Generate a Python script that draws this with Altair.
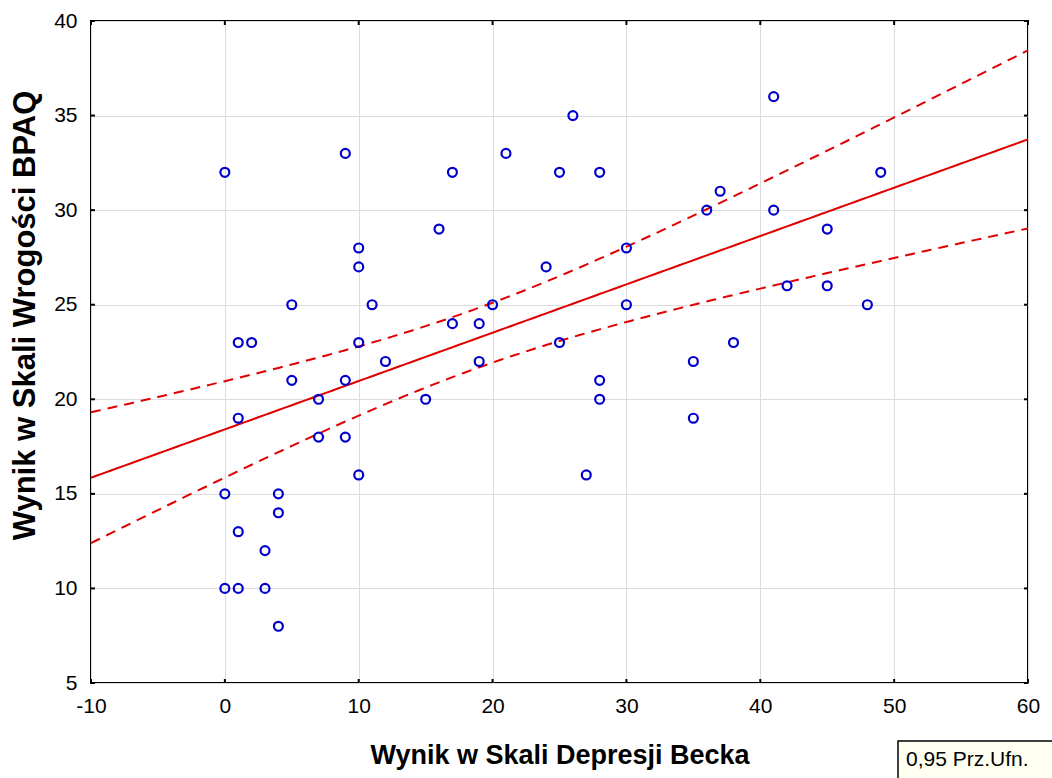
import altair as alt
import numpy as np
import pandas as pd

# ---- data ----
beck = [0, 9, 10, 10, 5, 11, 1, 2, 10, 16, 12, 5, 9, 7, 1, 7, 9, 10, 0, 4, 4, 1, 3, 0, 1, 3, 4, 15,
        26, 21, 17, 25, 28, 37, 36, 30, 24, 20, 30, 17, 19, 25, 38, 19, 28, 28, 27, 35, 35,
        41, 41, 49, 45, 42, 45, 48]
bpaq = [32, 33, 28, 27, 25, 25, 23, 23, 23, 29, 22, 21, 21, 20, 19, 18, 18, 16, 15, 15, 14, 13, 12, 10, 10, 10, 8, 20,
        35, 33, 32, 32, 32, 31, 30, 28, 27, 25, 25, 24, 24, 23, 23, 22, 21, 20, 16, 22, 19,
        36, 30, 32, 29, 26, 26, 25]
x_ticks = [-10, 0, 10, 20, 30, 40, 50, 60]
y_ticks = [5, 10, 15, 20, 25, 30, 35, 40]
x_title = "Wynik w Skali Depresji Becka"
y_title = "Wynik w Skali Wrogości BPAQ"
ci_label = "0,95 Prz.Ufn."
T975 = 2.005  # t critical value, df = n - 2

# ---- regression and 95% confidence band computed from the data ----
xa = np.array(beck, float)
ya = np.array(bpaq, float)
n = len(xa)
b1, b0 = np.polyfit(xa, ya, 1)
resid = ya - (b0 + b1 * xa)
s = np.sqrt((resid ** 2).sum() / (n - 2))
sxx = ((xa - xa.mean()) ** 2).sum()
grid = np.linspace(x_ticks[0], x_ticks[-1], 141)
fit = b0 + b1 * grid
half = T975 * s * np.sqrt(1.0 / n + (grid - xa.mean()) ** 2 / sxx)
fit_df = pd.DataFrame({"x": grid, "fit": fit, "lo": fit - half, "hi": fit + half})
pts = pd.DataFrame({"x": beck, "y": bpaq})

W, H = 937, 662
xs = alt.Scale(domain=[x_ticks[0], x_ticks[-1]], nice=False, zero=False)
ys = alt.Scale(domain=[y_ticks[0], y_ticks[-1]], nice=False, zero=False)

FONT = "Liberation Sans"
xaxis = alt.Axis(values=x_ticks, title=x_title, grid=True, gridColor="#dcdcdc", gridWidth=1,
                 ticks=False, domain=False, labelFontSize=21, labelPadding=12, labelColor="#000",
                 labelExpr="'' + datum.value",
                 titleFontSize=27, titleFontWeight="bold", titleColor="#000",
                 titleBaseline="alphabetic", titleY=80, titleX=W / 2, titleAlign="center",
                 labelFont=FONT, titleFont=FONT, labelFlush=False)
yaxis = alt.Axis(values=y_ticks, title=y_title, grid=True, gridColor="#dcdcdc", gridWidth=1,
                 ticks=False, domain=False, labelFontSize=21, labelPadding=14, labelColor="#000",
                 titleFontSize=31, titleFontWeight="bold", titleColor="#000",
                 titleAngle=270, titleBaseline="alphabetic", titleAlign="center",
                 titleX=-57, titleY=294,
                 labelFont=FONT, titleFont=FONT, labelFlush=False)

base = alt.Chart(fit_df)
red = "#e00000"
fit_line = base.mark_line(color=red, strokeWidth=2).encode(
    x=alt.X("x:Q", scale=xs, axis=xaxis), y=alt.Y("fit:Q", scale=ys, axis=yaxis))
lo_line = base.mark_line(color=red, strokeWidth=2, strokeDash=[10, 7]).encode(
    x=alt.X("x:Q", scale=xs), y=alt.Y("lo:Q", scale=ys))
hi_line = base.mark_line(color=red, strokeWidth=2, strokeDash=[10, 7]).encode(
    x=alt.X("x:Q", scale=xs), y=alt.Y("hi:Q", scale=ys))

points = alt.Chart(pts).mark_point(shape="circle", filled=False, color="#0000cc",
                                   size=80, strokeWidth=2.2, opacity=1).encode(
    x=alt.X("x:Q", scale=xs), y=alt.Y("y:Q", scale=ys))

xt = alt.Chart(pd.DataFrame({"t": x_ticks}))
yt = alt.Chart(pd.DataFrame({"t": y_ticks}))
tk = dict(color="#000", strokeWidth=2)
t_bottom = xt.mark_rule(**tk).encode(x=alt.X("t:Q", scale=xs), y=alt.value(H), y2=alt.value(H - 4))
t_top = xt.mark_rule(**tk).encode(x=alt.X("t:Q", scale=xs), y=alt.value(0), y2=alt.value(4))
t_left = yt.mark_rule(**tk).encode(y=alt.Y("t:Q", scale=ys), x=alt.value(0), x2=alt.value(4))
t_right = yt.mark_rule(**tk).encode(y=alt.Y("t:Q", scale=ys), x=alt.value(W - 4), x2=alt.value(W))

lab = alt.Chart(pd.DataFrame({"label": [ci_label]}))
box = lab.mark_rect(fill="#fffff2", stroke="#000", strokeWidth=1.5).encode(
    x=alt.value(807), x2=alt.value(975), y=alt.value(720), y2=alt.value(790))
box_text = lab.mark_text(align="left", baseline="middle", fontSize=21, font=FONT,
                         color="#000").encode(x=alt.value(815), y=alt.value(739), text="label:N")

chart = alt.layer(fit_line, lo_line, hi_line, points, t_bottom, t_top, t_left, t_right, box, box_text).properties(
    width=W, height=H,
    autosize=alt.AutoSizeParams(type="none"),
    padding={"left": 91, "top": 21, "right": 24, "bottom": 95},
    background="white",
).configure_view(stroke="#000", strokeWidth=2)

chart.save("out.html", embed_options={"renderer": "svg", "actions": False})
